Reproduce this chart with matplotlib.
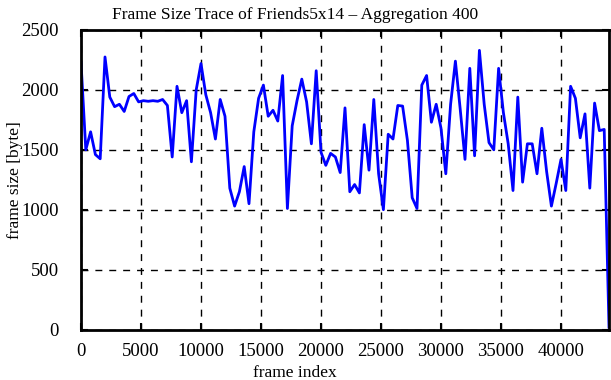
import numpy as np
import matplotlib.pyplot as plt

# frame size trace, one value every 400 frames (aggregation 400)
frame_idx = np.arange(0, 44001, 400)
frame_size = [
    2230, 1500, 1650, 1460, 1425, 2275, 1940, 1860, 1880, 1820,
    1945, 1970, 1900, 1910, 1905, 1910, 1905, 1920, 1870, 1440,
    2030, 1810, 1910, 1400, 2000, 2220, 1960, 1810, 1590, 1920,
    1780, 1180, 1030, 1150, 1360, 1050, 1650, 1930, 2040, 1780,
    1830, 1740, 2120, 1010, 1700, 1910, 2090, 1900, 1550, 2160,
    1480, 1370, 1470, 1440, 1310, 1850, 1150, 1210, 1140, 1710,
    1330, 1920, 1300, 1000, 1630, 1590, 1870, 1865, 1580, 1100,
    1010, 2040, 2120, 1730, 1880, 1680, 1300, 1880, 2240, 1840,
    1420, 2180, 1450, 2330, 1880, 1560, 1500, 2180, 1810, 1550,
    1160, 1940, 1230, 1550, 1550, 1300, 1680, 1320, 1030, 1220,
    1420, 1160, 2030, 1930, 1600, 1800, 1180, 1890, 1660, 1670,
    20,
]

plt.rcParams['font.family'] = ['Liberation Serif', 'DejaVu Serif']
plt.rcParams['font.size'] = 12.5

fig = plt.figure(figsize=(6.11, 3.80), dpi=100)
ax = fig.add_axes([81 / 611, 1 - 329.5 / 380, 528 / 611, 299.5 / 380])

ax.plot(frame_idx, frame_size, color='#0000ff', linewidth=2)

ax.set_xlim(0, 44000)
ax.set_ylim(0, 2500)
ax.set_xticks(np.arange(0, 40001, 5000))
ax.set_yticks(np.arange(0, 2501, 500))
ax.grid(True, color='black', linestyle=(0, (5, 5)), linewidth=1)
ax.tick_params(direction='in', length=5, width=1.5, top=True, right=True,
               labelsize=13.5)
ax.tick_params(axis='x', pad=10)
ax.tick_params(axis='y', pad=16)
for s in ax.spines.values():
    s.set_linewidth(2)

ax.set_title('Frame Size Trace of Friends5x14 – Aggregation 400', x=0.405, fontsize=12.5, pad=8)
ax.set_xlabel('frame index', fontsize=12.5)
ax.xaxis.set_label_coords(0.405, -0.12)
ax.set_ylabel('frame size [byte]', fontsize=12.5)
ax.yaxis.set_label_coords(-0.11, 0.5)

plt.savefig('out.png', dpi=100)
